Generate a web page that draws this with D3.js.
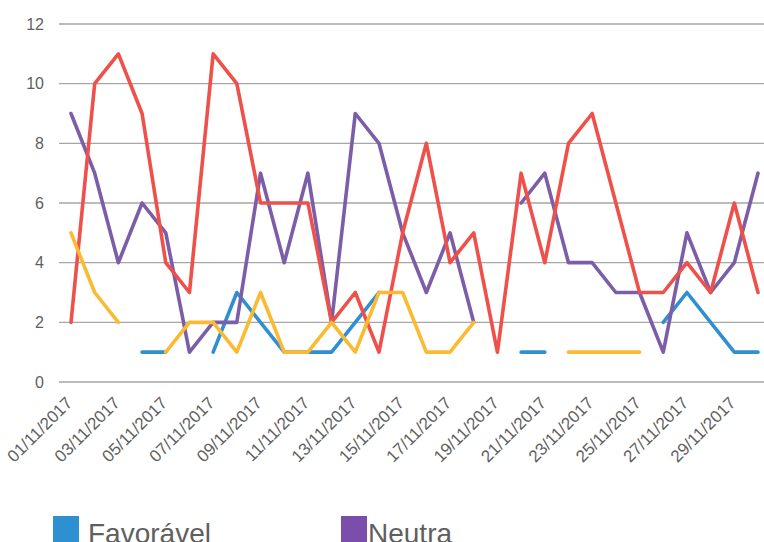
<!DOCTYPE html>
<html>
<head>
<meta charset="utf-8">
<script src="https://cdn.jsdelivr.net/npm/d3@7"></script>
<style>
  html, body { margin: 0; padding: 0; background: #fff; }
  svg { display: block; }
</style>
</head>
<body>
<svg id="chart" width="764" height="542"></svg>
<script>
const dates = d3.range(1, 31).map(d => String(d).padStart(2, "0") + "/11/2017");
const yTicks = [0, 2, 4, 6, 8, 10, 12];

const favoravel = [null, null, null, 1, 1, null, 1, 3, 2, 1, 1, 1, 2, 3, null, null, null, null, null, 1, 1, null, null, null, null, 2, 3, 2, 1, 1];
const neutra = [9, 7, 4, 6, 5, 1, 2, 2, 7, 4, 7, 2, 9, 8, 5, 3, 5, 2, null, 6, 7, 4, 4, 3, 3, 1, 5, 3, 4, 7];
const desfavoravel = [2, 10, 11, 9, 4, 3, 11, 10, 6, 6, 6, 2, 3, 1, 5, 8, 4, 5, 1, 7, 4, 8, 9, 6, 3, 3, 4, 3, 6, 3];
const outra = [5, 3, 2, null, 1, 2, 2, 1, 3, 1, 1, 2, 1, 3, 3, 1, 1, 2, null, null, null, 1, 1, 1, 1, null, null, null, null, null];

const seriesNames = ["Favorável", "Neutra", "Desfavorável", "Outra"];
const seriesColors = ["#2E90D1", "#7B5EA7", "#EF5049", "#FBBA31"];
const seriesData = [favoravel, neutra, desfavoravel, outra];
const legendShown = ["Favorável", "Neutra"];
const legendColors = ["#2E90D1", "#7B4EAB"];

const FONT = "'Liberation Sans', Arial, sans-serif";
const svg = d3.select("#chart");
const x = d3.scalePoint().domain(dates).range([71, 758]);
const y = d3.scaleLinear().domain([0, 12]).range([382, 24]);

// gridlines
svg.append("g").selectAll("line").data(yTicks).join("line")
  .attr("x1", 59).attr("x2", 764)
  .attr("y1", d => y(d)).attr("y2", d => y(d))
  .attr("stroke", "#a6a6a6").attr("stroke-width", 1.3);

// y axis labels
const yAxis = d3.axisLeft(y).tickValues(yTicks).tickSize(0).tickPadding(0);
const gy = svg.append("g").attr("transform", "translate(44,0)").call(yAxis);
gy.select(".domain").remove();
gy.selectAll("text").attr("font-family", FONT)
  .attr("font-size", 16).attr("fill", "#5f5f5f");

// x axis labels
const xAxis = d3.axisBottom(x).tickValues(dates.filter((d, i) => i % 2 === 0)).tickSize(0).tickPadding(0);
const gx = svg.append("g").attr("transform", "translate(0,404)").call(xAxis);
gx.select(".domain").remove();
gx.selectAll("text")
  .attr("font-family", FONT)
  .attr("font-size", 17).attr("fill", "#5f5f5f")
  .attr("text-anchor", "end")
  .attr("x", 0).attr("y", 0).attr("dy", 0)
  .attr("transform", "translate(2,0) rotate(-45)");

// lines
const line = d3.line()
  .defined(d => d.v !== null)
  .x(d => x(d.date)).y(d => y(d.v));

seriesData.forEach((arr, k) => {
  svg.append("path")
    .datum(arr.map((v, i) => ({ date: dates[i], v })))
    .attr("fill", "none")
    .attr("stroke", seriesColors[k])
    .attr("stroke-width", 3.6)
    .attr("stroke-linejoin", "round")
    .attr("stroke-linecap", "round")
    .attr("d", line);
});

// legend
const legX = [53, 341];
legendShown.forEach((name, i) => {
  const g = svg.append("g").attr("transform", `translate(${legX[i]},516)`);
  g.append("rect").attr("width", 26).attr("height", 26).attr("fill", legendColors[i]);
  g.append("text").attr("x", i === 1 ? 27 : 35).attr("y", 27)
    .attr("font-family", FONT)
    .attr("font-size", 28).attr("fill", "#5f5f5f").text(name);
});
</script>
</body>
</html>
